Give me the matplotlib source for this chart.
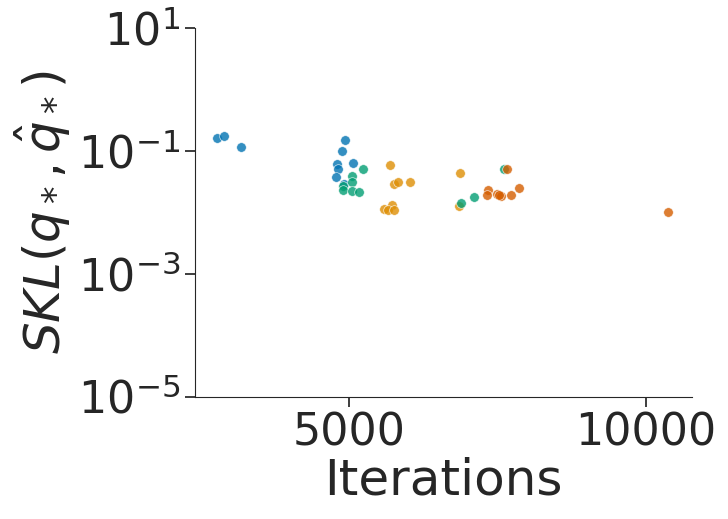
import matplotlib
matplotlib.use("Agg")
from matplotlib import pyplot as plt
import seaborn as sns

sns.set_style("ticks")
palette = sns.color_palette("colorblind")

# iterations / SKL values, one group per colour
iters_a = [2773, 2901, 3187, 4938, 4882, 4798, 4820, 5072, 4786, 4916]
skl_a = [0.159, 0.173, 0.115, 0.148, 0.098, 0.061, 0.050, 0.063, 0.037, 0.029]

iters_b = [5695, 5763, 5830, 6032, 5729, 5594, 5652, 5763, 6869, 6857]
skl_b = [0.058, 0.0294, 0.0308, 0.0308, 0.0133, 0.0112, 0.0107, 0.0108, 0.0428, 0.0125]

iters_c = [5241, 5056, 5056, 4904, 4904, 5045, 5173, 6881, 7109, 7615]
skl_c = [0.050, 0.0386, 0.0312, 0.0268, 0.0234, 0.0220, 0.0212, 0.0142, 0.0174, 0.050]

iters_d = [7660, 7345, 7323, 7487, 7559, 7530, 7732, 7867, 10375]
skl_d = [0.0515, 0.0229, 0.0194, 0.0199, 0.0184, 0.0194, 0.0194, 0.0253, 0.0100]

groups = [(iters_a, skl_a), (iters_b, skl_b), (iters_c, skl_c), (iters_d, skl_d)]

fig = plt.figure(figsize=(7.28, 5.19), dpi=100)
ax = fig.add_axes([0.268, 0.236, 0.682, 0.710])

for i, (x, y) in enumerate(groups):
    ax.scatter(x, y, s=48, color=palette[i], alpha=0.8,
               edgecolor="white", linewidth=0.5)

ax.set_yscale("log")
ax.set_ylim(1e-5, 1e1)
ax.set_yticks([1e-5, 1e-3, 1e-1, 1e1])
ax.minorticks_off()
ax.set_xticks([5000, 10000])
ax.set_xlim(2407, 10769)

ax.tick_params(labelsize=32, length=7, width=1.25)
ax.set_xlabel("Iterations", fontsize=36, labelpad=2)
ax.set_ylabel(r"$SKL(q_*, \hat{q}_*)$", fontsize=36, labelpad=4)
sns.despine(ax=ax)

fig.savefig("out.png", dpi=100)
